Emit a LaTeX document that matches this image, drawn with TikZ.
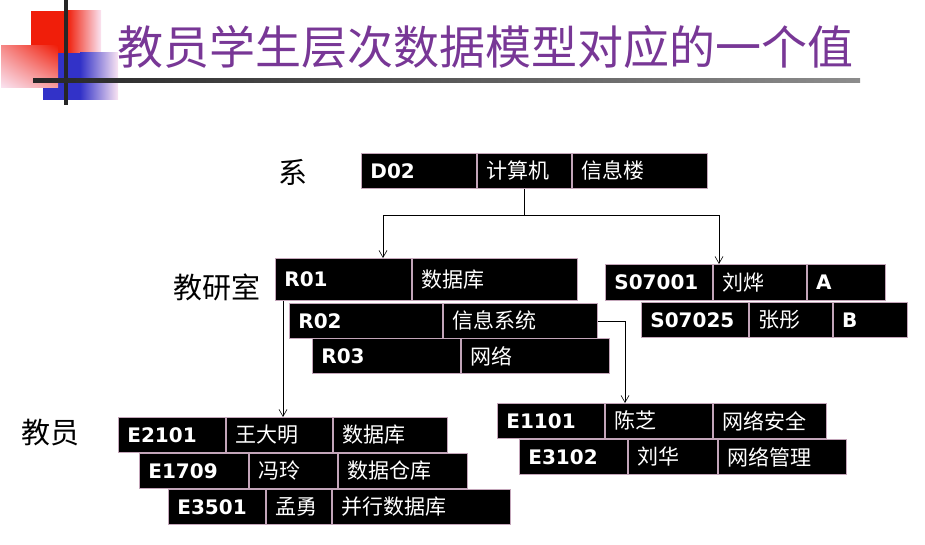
\documentclass[tikz,border=0pt]{standalone}
\usepackage{fontspec}
\newfontfamily\cjk{Noto Sans CJK SC}
\newfontfamily\codefont{DejaVu Sans}
\usetikzlibrary{positioning, arrows.meta, shadings}

\definecolor{titlepurple}{RGB}{120,55,150}
\definecolor{cellline}{RGB}{195,165,185}
\definecolor{decored}{RGB}{240,30,10}
\definecolor{decoblue}{RGB}{50,50,200}
\definecolor{decopink}{RGB}{250,228,242}

\tikzset{
  cell/.style={fill=black, draw=cellline, line width=0.8pt, text=white, text width=#1,
    minimum height=35pt, inner xsep=9pt, inner ysep=0pt, align=left,
    font=\cjk\fontsize{21}{24}\selectfont},
  key/.style={font=\codefont\bfseries\fontsize{20}{24}\selectfont},
  level/.style={font=\cjk\fontsize{29}{32}\selectfont},
  link/.style={draw=black, line width=0.6pt},
  arr/.style={-{Straight Barb[length=7pt,width=8pt]}},
}

\begin{document}
\begin{tikzpicture}[x=1pt, y=-1pt]
  \useasboundingbox (0,0) rectangle (925,545);

  % decoration of the title
  \fill[decored] (31,11) rectangle (67,81);
  \shade[left color=decored, right color=decopink] (67,11) rectangle (101,81);
  \fill[decoblue] (43,53) rectangle (80,100);
  \shade[left color=decoblue, right color=decopink] (80,53) rectangle (118,100);
  \shade[upper left=decored!45!decopink, upper right=decored, lower left=decopink,
         lower right=decored!35!decopink] (1,46) rectangle (58,88);
  \fill[black!85] (64,0) rectangle (68,105);
  \shade[left color=black!85, right color=black!45] (33,79) rectangle (860,83);
  \node[text=titlepurple, font=\cjk\fontsize{46}{50}\selectfont] (title) at (485,47)
       {教员学生层次数据模型对应的一个值};

  % level names
  \node[level] (lxi) at (293,172) {系};
  \node[level] (ljys) at (217,287) {教研室};
  \node[level] (ljy) at (50,433) {教员};

  % department
  \node[cell=97, key, anchor=north west] (d02) at (361,153) {D02};
  \node[cell=76, right=0pt of d02] (jsj) {计算机};
  \node[cell=117, right=0pt of jsj] (xxl) {信息楼};

  % research rooms
  \node[cell=118, key, anchor=north west, minimum height=42pt] (r01a) at (275,258) {R01};
  \node[cell=147, right=0pt of r01a, minimum height=42pt] (r01b) {数据库};
  \node[cell=135, key, anchor=north west] (r02a) at (289,303) {R02};
  \node[cell=136, right=0pt of r02a] (r02b) {信息系统};
  \node[cell=130, key, anchor=north west] (r03a) at (312,338) {R03};
  \node[cell=130, right=0pt of r03a] (r03b) {网络};

  % students
  \node[cell=89, key, anchor=north west, minimum height=36pt] (s1a) at (605,264) {S07001};
  \node[cell=75, right=0pt of s1a, minimum height=36pt] (s1b) {刘烨};
  \node[cell=60, key, right=0pt of s1b, minimum height=36pt] (s1c) {A};
  \node[cell=89, key, anchor=north west] (s2a) at (641,302) {S07025};
  \node[cell=65, right=0pt of s2a] (s2b) {张彤};
  \node[cell=56, key, right=0pt of s2b] (s2c) {B};

  % teachers of R01
  \node[cell=89, key, anchor=north west] (e1a) at (118,417) {E2101};
  \node[cell=88, right=0pt of e1a] (e1b) {王大明};
  \node[cell=96, right=0pt of e1b] (e1c) {数据库};
  \node[cell=91, key, anchor=north west] (e2a) at (139,453) {E1709};
  \node[cell=70, right=0pt of e2a] (e2b) {冯玲};
  \node[cell=111, right=0pt of e2b] (e2c) {数据仓库};
  \node[cell=79, key, anchor=north west] (e3a) at (168,489) {E3501};
  \node[cell=47, right=0pt of e3a] (e3b) {孟勇};
  \node[cell=160, right=0pt of e3b] (e3c) {并行数据库};

  % teachers of R02
  \node[cell=89, key, anchor=north west] (e4a) at (497,403) {E1101};
  \node[cell=89, right=0pt of e4a] (e4b) {陈芝};
  \node[cell=95, right=0pt of e4b] (e4c) {网络安全};
  \node[cell=90, key, anchor=north west] (e5a) at (519,439) {E3102};
  \node[cell=71, right=0pt of e5a] (e5b) {刘华};
  \node[cell=110, right=0pt of e5b] (e5c) {网络管理};

  % links
  \draw[link] (jsj.south) -- ++(0,27) coordinate (fork);
  \draw[link, arr] (fork) -| ([xshift=108pt]r01a.north west);
  \draw[link, arr] (fork) -| ([xshift=114pt]s1a.north west);
  \draw[link, arr] ([xshift=8pt]r01a.south west) -- ([xshift=8pt]r01a.south west |- e1a.north);
  \draw[link, arr] (r02b.east) -| ([xshift=128pt]e4a.north west);
\end{tikzpicture}
\end{document}
